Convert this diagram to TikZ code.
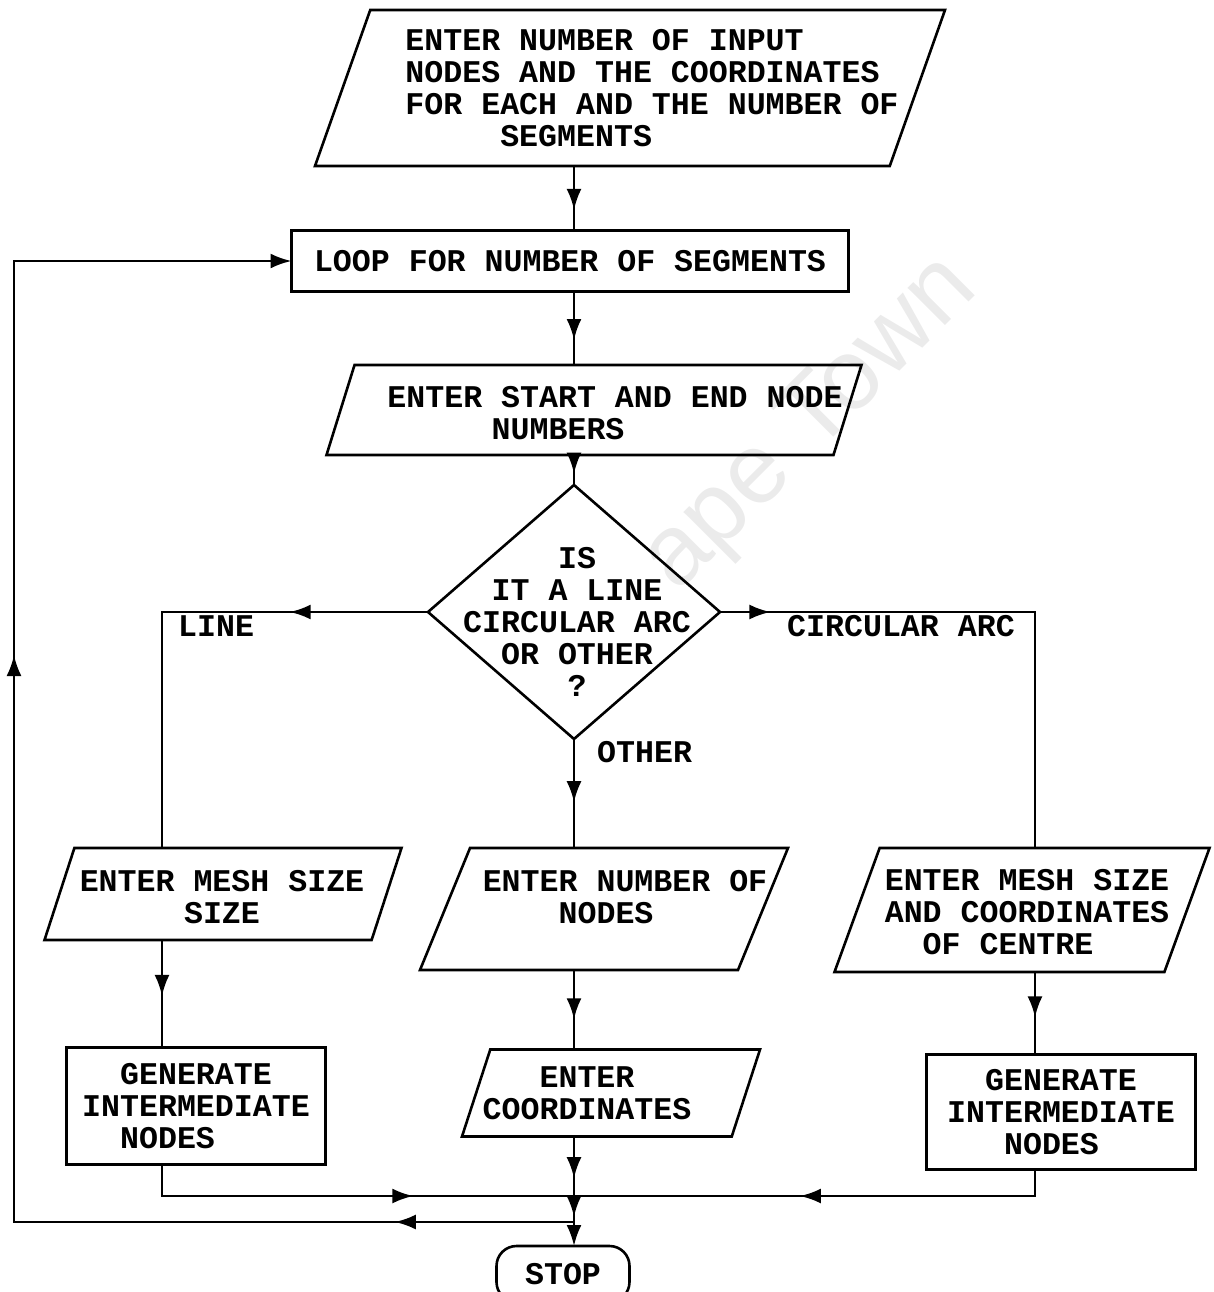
\documentclass[tikz,border=0pt]{standalone}
\usepackage{fontspec}
\setmonofont{Liberation Mono}
\setsansfont{Liberation Sans}
\usetikzlibrary{arrows.meta,positioning,calc,shapes.geometric,decorations.markings}

\tikzset{
  tw/.style={font=\ttfamily\bfseries\fontsize{31.6}{32}\selectfont},
  txt/.style={tw, inner sep=0pt},
  base/.style={tw, draw, line width=2.6pt, inner sep=0pt, outer sep=0pt},
  box/.style={base, rectangle},
  io/.style 2 args={base, trapezium, trapezium left angle=#1,
    trapezium right angle=#2, trapezium stretches body},
  dia/.style={base, diamond},
  term/.style={base, rounded corners=20pt},
  flow/.style={line width=2.6pt, line cap=rect},
  tip/.style={-{Latex[length=21pt,width=15pt]}},
  midarrow/.style={postaction={decorate}, decoration={markings,
    mark=at position #1 with {\arrow{Latex[length=21pt,width=15pt]}}}},
  midarrow/.default=0.6
}

\begin{document}
\begin{tikzpicture}[x=1pt,y=-1pt]
\useasboundingbox (0,0) rectangle (1213,1292);
\clip (0,0) rectangle (1213,1292);

% faint watermark
\node[rotate=45, text=black!8, font=\sffamily\fontsize{100}{100}\selectfont] (wmark) at (812,425) {ape Town};

% columns
\coordinate (back) at (14,0);
\coordinate (lcol) at (162,0);
\coordinate (mcol) at (574,0);
\coordinate (rcol) at (1035,0);

% boxes
\node[io={70.5}{109.5}, minimum width=630, inner ysep=78] (in) at (630,88) {};
\node[txt, align=left] (in-t) at (652,88) {ENTER NUMBER OF INPUT\\NODES AND THE COORDINATES\\FOR EACH AND THE NUMBER OF\\\hspace*{3em}SEGMENTS};

\node[box, minimum width=557, minimum height=61] (loop) at (570,261) {LOOP FOR NUMBER OF SEGMENTS};

\node[io={72.7}{107.3}, minimum width=535, inner ysep=45] (seg) at (594,410) {};
\node[txt, align=left] (seg-t) at (615,413) {ENTER START AND END NODE\\\hspace*{3.3em}NUMBERS};

\node[dia, minimum width=292, minimum height=254] (dec) at (574,612) {};
\node[txt, align=center] (dec-t) at (577,622) {IS\\IT A LINE\\CIRCULAR ARC\\OR OTHER\\?};

\node[txt, anchor=west] (l-line) at (178,626) {LINE};
\node[txt, anchor=west] (l-arc) at (787,626) {CIRCULAR ARC};
\node[txt, anchor=west] (l-other) at (597,752) {OTHER};

\node[io={72}{108}, minimum width=357, inner ysep=46] (msz) at (223,894) {};
\node[txt, align=center] (msz-t) at (222,897) {ENTER MESH SIZE\\SIZE};

\node[io={67.7}{112.3}, minimum width=368, inner ysep=61] (nn) at (604,909) {};
\node[txt, align=left] (nn-t) at (625,897) {ENTER NUMBER OF\\\hspace*{2.4em}NODES};

\node[io={70}{110}, minimum width=375, inner ysep=62] (msc) at (1022,910) {};
\node[txt, align=left] (msc-t) at (1027,912) {ENTER MESH SIZE\\AND COORDINATES\\\hspace*{1.2em}OF CENTRE};

\node[box, minimum width=259, minimum height=117, align=left] (lbox) at (196,1106) {\hspace*{1.2em}GENERATE\\INTERMEDIATE\\\hspace*{1.2em}NODES};

\node[io={72}{108}, minimum width=298, inner ysep=43.5] (cc) at (611,1093) {};
\node[txt, align=center] (cc-t) at (587,1093) {ENTER\\COORDINATES};

\node[box, minimum width=269, minimum height=115, align=left] (rbox) at (1061,1112) {\hspace*{1.2em}GENERATE\\INTERMEDIATE\\\hspace*{1.8em}NODES};

\node[term, minimum width=133, minimum height=56] (stop) at (563,1274) {STOP};

% junctions
\coordinate (j1) at (574,1196);
\coordinate (j2) at (574,1222);
\coordinate (lj) at (lcol |- j1);
\coordinate (rj) at (rcol |- j1);
\coordinate (bl) at (back |- j2);
\coordinate (tl) at (back |- loop.west);

% main line
\draw[flow, midarrow=0.68] (in.south -| mcol) -- (loop.north -| mcol);
\draw[flow, midarrow=0.66] (loop.south -| mcol) -- (seg.north -| mcol);
\draw[flow, midarrow=0.62] (seg.south -| mcol) -- (dec.north);

% branches
\draw[flow, midarrow=0.52] (dec.west) -- (dec.west -| lcol);
\draw[flow] (dec.west -| lcol) -- (msz.north -| lcol);
\draw[flow, midarrow=0.16] (dec.east) -- (dec.east -| rcol);
\draw[flow] (dec.east -| rcol) -- (msc.north -| rcol);
\draw[flow, midarrow=0.58] (dec.south) -- (nn.north -| mcol);

\draw[flow, midarrow=0.52] (msz.south -| lcol) -- (lbox.north -| lcol);
\draw[flow, midarrow=0.62] (nn.south -| mcol) -- (cc.north -| mcol);
\draw[flow, midarrow=0.55] (msc.south -| rcol) -- (rbox.north -| rcol);

% join and stop
\draw[flow] (lbox.south -| lcol) -- (lj);
\draw[flow, midarrow=0.61] (lj) -- (j1);
\draw[flow] (rbox.south -| rcol) -- (rj);
\draw[flow, midarrow=0.51] (rj) -- (j1);
\draw[flow, midarrow=0.7] (cc.south -| mcol) -- (j1);
\draw[flow, midarrow=0.8] (j1) -- (j2);
\draw[flow, tip] (j2) -- (stop.north -| mcol);

% loop back
\draw[flow, midarrow=0.32] (j2) -- (bl);
\draw[flow, midarrow=0.59] (bl) -- (tl);
\draw[flow, tip] (tl) -- (loop.west);
\end{tikzpicture}
\end{document}
